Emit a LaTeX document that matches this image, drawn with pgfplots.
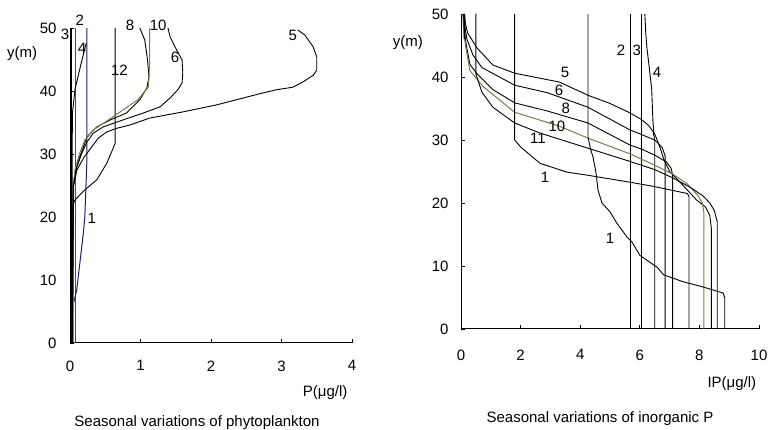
\documentclass[border=0pt]{standalone}
\usepackage{pgfplots}
\pgfplotsset{compat=1.18}
\usepackage{fontspec}
\setmainfont{Liberation Sans}
\definecolor{olivel}{RGB}{125,125,60}
\definecolor{navyl}{RGB}{30,30,110}
\pgfplotsset{
  myax/.style={
    scale only axis, axis x line=bottom, axis y line=left,
    axis line style={-, line width=1pt},
    tick align=inside, major tick length=4pt,
    tick style={line width=0.9pt, black},
    ymin=0, ymax=50, ytick={0,10,20,30,40,50},
    clip=false,
    /pgf/number format/assume math mode=true,
    tick label style={font=\fontsize{15}{15}\selectfont},
    cycle list={black,solid,line width=0.9pt\\},
    no markers,
    anchor=origin,
  },
}
\tikzset{lab/.style={font=\fontsize{15}{15}\selectfont, inner sep=0pt}}
\begin{document}
\begin{tikzpicture}
\path[use as bounding box] (0pt,0pt) rectangle (769pt,430pt);

% ---------------- left: phytoplankton ----------------
\begin{axis}[myax, at={(70pt,87pt)}, width=282pt, height=315pt,
  xmin=0, xmax=4, xtick={0,1,2,3,4},
  xticklabel style={yshift=-14pt}, yticklabel style={xshift=-10pt}]
% 3 (thick)
\addplot[black, line width=2pt] coordinates {(0.015,0)(0.015,50)};
% 2
\addplot[black!70, line width=1pt] coordinates {(0.085,0)(0.085,50)};
% 1 (navy)
\addplot[navyl, line width=1pt] coordinates {(0.24,50)(0.24,29)(0.21,20)(0.19,17.5)(0.095,8.4)(0.057,6.6)(0.03,6.2)(0.025,0)};
% 4
\addplot coordinates {(0.23,47.6)(0.15,44)(0.07,40.2)(0.035,36.5)(0.03,30)(0.03,0)};
% 12
\addplot coordinates {(0.64,50)(0.64,31.7)(0.6,30.6)(0.52,28.5)(0.38,25.9)(0.21,24.3)(0.07,22.7)(0.04,21.9)(0.035,21)(0.035,0)};
% 8
\addplot coordinates {(0.99,50)(1.06,48.1)(1.1,44.9)(1.12,42.2)(1.09,40.5)(0.99,38.6)(0.8,36.5)(0.57,35.4)(0.38,34.3)(0.24,32.7)(0.19,31.1)(0.12,29)(0.07,27)(0.045,25)(0.04,20)(0.04,0)};
% 10 (olive)
\addplot[olivel, line width=1pt] coordinates {(1.13,50)(1.13,45)(1.12,42)(1.11,40.6)(0.96,38.6)(0.61,35.9)(0.33,33.8)(0.21,32.2)(0.14,30.2)(0.07,27.5)(0.05,25)(0.045,0)};
% 6
\addplot coordinates {(1.39,50)(1.42,48.6)(1.49,47)(1.59,44.9)(1.6,42.9)(1.59,41.3)(1.53,40.2)(1.42,38.9)(1.28,37.5)(1.04,36.5)(0.75,35.4)(0.47,34.3)(0.33,33.3)(0.24,31.9)(0.17,30.2)(0.1,28)(0.05,25)(0.03,0)};
% 5
\addplot coordinates {(3.23,49.7)(3.33,48.9)(3.45,47)(3.5,45.4)(3.5,43.3)(3.45,42.5)(3.3,41.4)(3.16,40.6)(2.93,40.2)(2.74,39.7)(2.46,38.9)(2.08,37.8)(1.61,36.7)(1.13,35.7)(0.85,34.6)(0.67,34.1)(0.52,33.5)(0.4,32.5)(0.3,31)(0.2,29.5)(0.1,27.5)(0.05,25)(0.03,0)};
% curve labels
\node[lab] at (axis cs:-0.07,49) {3};
\node[lab] at (axis cs:0.14,51.3) {2};
\node[lab] at (axis cs:0.17,46.8) {4};
\node[lab] at (axis cs:0.85,50.5) {8};
\node[lab] at (axis cs:1.25,50.5) {10};
\node[lab] at (axis cs:1.49,45.4) {6};
\node[lab] at (axis cs:0.7,43.3) {12};
\node[lab] at (axis cs:3.16,48.9) {5};
\node[lab] at (axis cs:0.31,19.8) {1};
% axis labels
\node[lab] at (axis cs:-0.68,46) {y(m)};
\node[lab] at (axis cs:3.62,-7.9) {P(μg/l)};
\end{axis}

% ---------------- right: inorganic P ----------------
\begin{axis}[myax, at={(461pt,101pt)}, width=298pt, height=315pt,
  xmin=0, xmax=10, xtick={0,2,4,6,8,10},
  xticklabel style={yshift=-17pt}, yticklabel style={xshift=-9pt}]
% 2, 3
\addplot coordinates {(5.7,0)(5.7,50)};
\addplot coordinates {(6.04,0)(6.04,50)};
% 4
\addplot coordinates {(6.17,50)(6.2,47)(6.24,44.6)(6.33,41)(6.4,38)(6.44,33)(6.47,31.3)(6.6,29.8)(6.7,28.5)(6.8,27)(7.0,25)(7.35,23.3)(7.9,20.5)(8.2,19.4)(8.35,18)(8.4,16)(8.4,0)};
% 5
\addplot coordinates {(0.12,50)(0.15,48.5)(0.22,47)(0.54,44.6)(1.07,41.9)(1.8,40.6)(3.3,39.2)(4.26,37.1)(5.0,35.8)(5.67,34.3)(6.04,33.3)(6.3,32.3)(6.45,31.3)(6.5,30)(6.5,0)};
% 6
\addplot coordinates {(0.1,50)(0.13,48)(0.2,46)(0.4,43.5)(0.7,41.5)(1.8,38.7)(2.9,37.5)(4.26,35.2)(5.67,31.6)(6.04,30.9)(6.5,30)(6.75,28.8)(6.85,27.5)(6.85,0)};
% 8
\addplot coordinates {(0.08,50)(0.12,47)(0.18,45)(0.3,42)(0.54,40.5)(1.07,38)(1.8,35.9)(2.9,34.6)(4.26,32.7)(5.67,29.2)(6.04,28.6)(6.5,27.6)(6.9,26.5)(7.05,25.5)(7.1,24.5)(7.1,0)};
% 10 (olive)
\addplot[olivel, line width=1pt] coordinates {(0.06,50)(0.1,47)(0.15,45)(0.3,41)(0.74,38.5)(1.8,34.4)(3.3,32.2)(4.26,30.3)(5.67,27.8)(6.5,26)(7.1,24.6)(7.6,23)(7.95,21.2)(8.1,20)(8.15,18.5)(8.15,0)};
% 11
\addplot coordinates {(0.5,50)(0.5,40.5)(0.7,37.6)(1.07,35.2)(1.8,32.7)(2.65,31.1)(4.26,28.7)(5.67,26.6)(6.5,25.3)(7.1,24)(7.65,22.6)(8.1,21.2)(8.35,20)(8.5,18.8)(8.6,17)(8.6,0)};
% 1 (upper)
\addplot coordinates {(1.8,50)(1.8,30)(2,28.9)(2.65,26.3)(3.55,24.9)(4.26,24.4)(5.67,23.3)(6.5,22.6)(7.1,22)(7.6,21.5)(7.65,21)(7.65,0)};
% 1 (lower)
\addplot coordinates {(4.26,50)(4.26,30.5)(4.35,28.5)(4.43,27.3)(4.53,24.8)(4.6,22)(4.73,20)(5.0,18.6)(5.23,16.8)(5.57,14.6)(5.74,13.8)(6.0,11.7)(6.58,9.8)(6.8,8.6)(7.45,7.5)(8.1,6.7)(8.8,5.7)(8.85,4.9)(8.85,0)};
% surface cluster
\addplot[black, line width=1.6pt] coordinates {(0.1,50)(0.12,46)};
% curve labels
\node[lab] at (axis cs:5.37,44.3) {2};
\node[lab] at (axis cs:5.9,44.3) {3};
\node[lab] at (axis cs:6.58,40.8) {4};
\node[lab] at (axis cs:3.49,40.8) {5};
\node[lab] at (axis cs:3.29,37.9) {6};
\node[lab] at (axis cs:3.52,35.1) {8};
\node[lab] at (axis cs:3.22,32.1) {10};
\node[lab] at (axis cs:2.58,30.3) {11};
\node[lab] at (axis cs:2.82,24) {1};
\node[lab] at (axis cs:5.0,14.4) {1};
% axis labels
\node[lab] at (axis cs:-1.78,45.4) {y(m)};
\node[lab] at (axis cs:9.09,-8.6) {IP(μg/l)};
\end{axis}

% captions
\node[lab] at (197pt,7pt) {Seasonal variations of phytoplankton};
\node[lab] at (600pt,11pt) {Seasonal variations of inorganic P};
\end{tikzpicture}
\end{document}
